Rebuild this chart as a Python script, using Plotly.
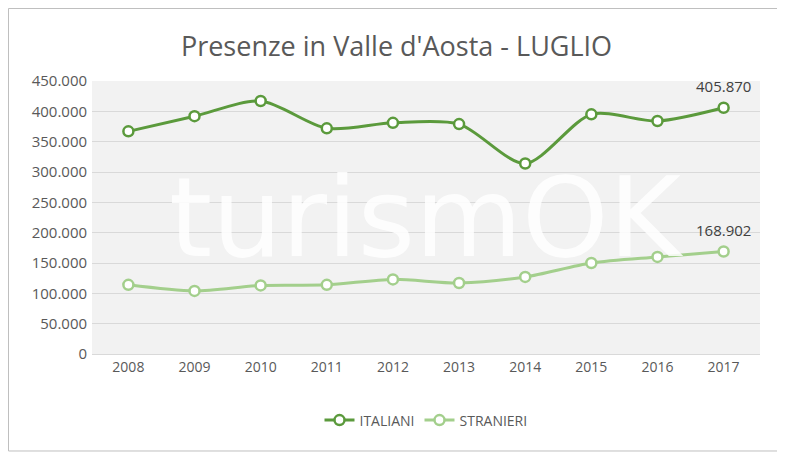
import plotly.graph_objects as go

years = [2008, 2009, 2010, 2011, 2012, 2013, 2014, 2015, 2016, 2017]
italiani = [367000, 392000, 417000, 372000, 381000, 379000, 314000, 395000, 384000, 405870]
stranieri = [114000, 104000, 113000, 114000, 123000, 117000, 127000, 150000, 160000, 168902]

fig = go.Figure()
fig.add_annotation(x=0.5, y=0.5, xref="paper", yref="paper", text="turismOK", showarrow=False,
                   font=dict(size=110, color="rgba(255,255,255,0.85)", family="DejaVu Sans"))
fig.add_trace(go.Scatter(x=years, y=italiani, name="ITALIANI", mode="lines+markers",
    line=dict(color="#5b9a3c", width=3, shape="spline", smoothing=0.8),
    marker=dict(size=10, color="white", line=dict(color="#5b9a3c", width=2.5))))
fig.add_trace(go.Scatter(x=years, y=stranieri, name="STRANIERI", mode="lines+markers",
    line=dict(color="#a3cf8c", width=3, shape="spline", smoothing=0.8),
    marker=dict(size=10, color="white", line=dict(color="#a3cf8c", width=2.5))))

fig.add_annotation(x=years[-1], y=italiani[-1], text="405.870", showarrow=False, yshift=22,
                   font=dict(size=15, color="#404040"))
fig.add_annotation(x=years[-1], y=stranieri[-1], text="168.902", showarrow=False, yshift=22,
                   font=dict(size=15, color="#404040"))

fig.update_layout(
    width=777, height=444, separators=",.",
    title=dict(text="Presenze in Valle d'Aosta - LUGLIO", x=0.5, y=0.935, xanchor="center",
               font=dict(size=27, color="#595959", family="Open Sans")),
    paper_bgcolor="white", plot_bgcolor="#f2f2f2",
    margin=dict(l=84, r=25, t=73, b=98),
    font=dict(family="Open Sans", color="#595959", size=14),
    xaxis=dict(tickmode="array", tickvals=years, range=[2007.45, 2017.55], showgrid=False,
               showline=True, linecolor="#d9d9d9", ticks="", tickfont=dict(size=14)),
    yaxis=dict(range=[0, 450000], dtick=50000, tickformat=",d", gridcolor="#d9d9d9",
               zeroline=False, tickfont=dict(size=15), ticksuffix=" "),
    legend=dict(orientation="h", x=0.5, xanchor="center", y=-0.185, yanchor="top",
                font=dict(size=14)),
    shapes=[dict(type="rect", xref="paper", yref="paper", x0=-0.1250, y0=-0.3553, x1=1.0359, y1=1.2656,
                 line=dict(color="#bfbfbf", width=1))],
)
fig.write_html("out.html")
